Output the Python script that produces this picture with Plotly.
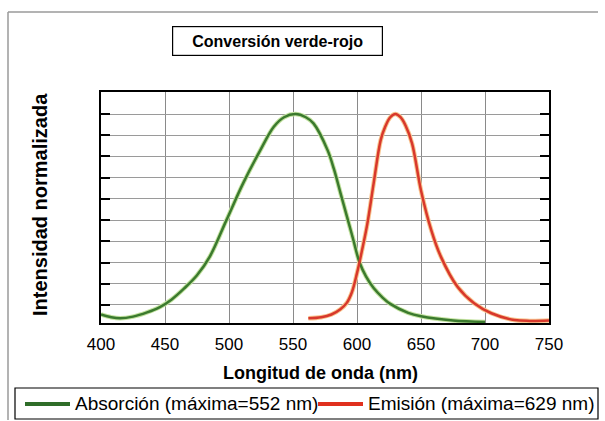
import plotly.graph_objects as go

# Data
abs_wl = [400, 408, 415, 425, 436, 446, 455, 465, 475, 485, 498, 511, 524.5, 535, 543, 552, 560, 566, 577, 582, 587, 592, 597, 602, 607, 613, 620, 626, 640, 650, 675, 700]
abs_val = [0.055, 0.042, 0.037, 0.045, 0.065, 0.09, 0.125, 0.178, 0.24, 0.328, 0.50, 0.673, 0.83, 0.94, 0.985, 1.0, 0.985, 0.956, 0.83, 0.74, 0.63, 0.52, 0.41, 0.30, 0.235, 0.18, 0.135, 0.105, 0.063, 0.047, 0.027, 0.02]

em_wl = [562, 572, 580, 587, 592, 596, 600, 604, 608, 613, 618.5, 622, 626, 630, 634, 638, 643, 650, 658, 665.5, 678.5, 691.5, 705, 723, 735, 750]
em_val = [0.037, 0.042, 0.055, 0.08, 0.11, 0.16, 0.25, 0.36, 0.48, 0.673, 0.877, 0.94, 0.985, 1.0, 0.985, 0.945, 0.862, 0.64, 0.453, 0.328, 0.186, 0.108, 0.061, 0.029, 0.025, 0.027]

x_ticks = [400, 450, 500, 550, 600, 650, 700, 750]
abs_name = "Absorción (máxima=552 nm)"
em_name = "Emisión (máxima=629 nm)"
title_text = "Conversión verde-rojo"
x_title = "Longitud de onda (nm)"
y_title = "Intensidad normalizada"

FONT = "Liberation Sans, Arial, sans-serif"
GREEN = "#3b7a2e"
RED = "#d8382c"

fig = go.Figure()
# soft halos (scan look)
fig.add_trace(go.Scatter(x=abs_wl, y=abs_val, mode="lines",
                         line=dict(color="#c3e2a0", width=4.5, shape="spline", smoothing=1.0),
                         showlegend=False, hoverinfo="skip"))
fig.add_trace(go.Scatter(x=em_wl, y=em_val, mode="lines",
                         line=dict(color="#f8c590", width=4.5, shape="spline", smoothing=1.0),
                         showlegend=False, hoverinfo="skip"))
fig.add_trace(go.Scatter(x=abs_wl, y=abs_val, mode="lines", name=abs_name,
                         line=dict(color=GREEN, width=2.5, shape="spline", smoothing=1.0), showlegend=False))
fig.add_trace(go.Scatter(x=em_wl, y=em_val, mode="lines", name=em_name,
                         line=dict(color=RED, width=2.5, shape="spline", smoothing=1.0), showlegend=False))

W, H = 605, 421
L, R, T, B = 101, 549, 92, 323
pw, ph = R - L, B - T

def px(x):
    return (x - L) / pw

def py(y):
    return (B - y) / ph

LEG_Y = 403
fig.update_layout(
    width=W, height=H,
    margin=dict(l=L, r=W - R, t=T, b=H - B, autoexpand=False),
    paper_bgcolor="white", plot_bgcolor="white",
    font=dict(family=FONT, color="black", size=17),
    showlegend=False,
    xaxis=dict(range=[400, 750], tickvals=x_ticks, showline=True, linecolor="black", linewidth=2,
               mirror=True, showgrid=True, gridcolor="#8a8a8a", gridwidth=1, zeroline=False,
               ticks="outside", ticklen=5, tickcolor="rgba(0,0,0,0)",
               tickfont=dict(size=17, family=FONT)),
    yaxis=dict(range=[0.015, 1.104], tick0=0, dtick=0.1, showticklabels=False, showline=True,
               linecolor="black", linewidth=2, mirror="ticks", ticks="inside", ticklen=9,
               tickcolor="black", tickwidth=1.5, showgrid=True, gridcolor="#9a9a9a", gridwidth=1,
               zeroline=False),
    annotations=[
        dict(text="<b>" + title_text + "</b>", xref="paper", yref="paper", x=px(277.5), y=py(41.5),
             showarrow=False, font=dict(size=16, family=FONT), bordercolor="black", borderwidth=1.2,
             borderpad=2, width=205, height=24, xanchor="center", yanchor="middle"),
        dict(text="<b>" + x_title + "</b>", xref="paper", yref="paper", x=px(320), y=py(373),
             showarrow=False, font=dict(size=18, family=FONT), xanchor="center", yanchor="middle"),
        dict(text="<b>" + y_title + "</b>", xref="paper", yref="paper", x=px(40), y=py(205),
             showarrow=False, font=dict(size=20, family=FONT), textangle=-90,
             xanchor="center", yanchor="middle"),
        dict(text=abs_name, xref="paper", yref="paper", x=px(73), y=py(LEG_Y),
             showarrow=False, font=dict(size=19, family=FONT), xanchor="left", yanchor="middle"),
        dict(text=em_name, xref="paper", yref="paper", x=px(366), y=py(LEG_Y),
             showarrow=False, font=dict(size=19, family=FONT), xanchor="left", yanchor="middle"),
    ],
    shapes=[
        dict(type="line", xref="paper", yref="paper", x0=px(8), x1=px(598), y0=py(12), y1=py(12),
             line=dict(color="#9a9a9a", width=1.5)),
        dict(type="line", xref="paper", yref="paper", x0=px(8), x1=px(8), y0=py(12), y1=py(420),
             line=dict(color="#9a9a9a", width=1.5)),
        dict(type="rect", xref="paper", yref="paper", x0=px(15), x1=px(598), y0=py(388), y1=py(419),
             line=dict(color="black", width=1.2), fillcolor="rgba(0,0,0,0)"),
        dict(type="line", xref="paper", yref="paper", x0=px(25), x1=px(70), y0=py(LEG_Y + 1), y1=py(LEG_Y + 1),
             line=dict(color="#2f6d29", width=4)),
        dict(type="line", xref="paper", yref="paper", x0=px(318), x1=px(363), y0=py(LEG_Y + 1), y1=py(LEG_Y + 1),
             line=dict(color="#e0301e", width=4)),
    ],
)

fig.write_html(
    "out.html",
    config={"displayModeBar": False},
    post_script="document.body.style.margin='0';document.body.style.padding='0';document.body.style.overflow='hidden';",
)
